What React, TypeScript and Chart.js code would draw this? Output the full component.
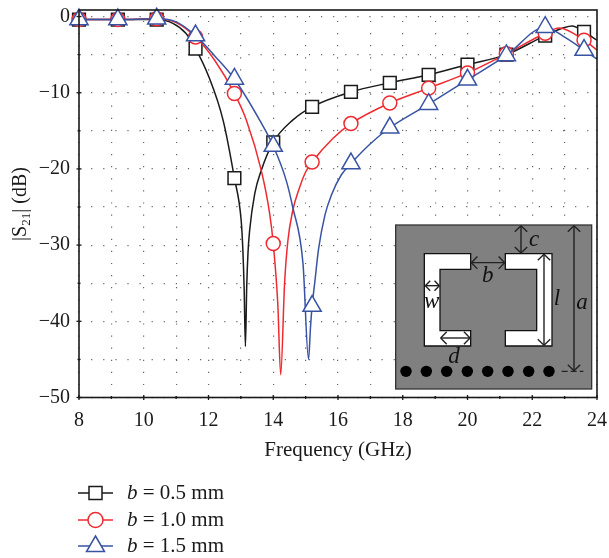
import React, { useEffect, useRef } from "react";
import { Chart, registerables } from "chart.js";

Chart.register(...registerables);

const FONT = '"Liberation Serif", serif';
const INK = "#1a1a1a";

const xTicks = [8, 10, 12, 14, 16, 18, 20, 22, 24];
const yTicks = [0, -10, -20, -30, -40, -50];

const markerFreqs = [8, 9.2, 10.4, 11.6, 12.8, 14, 15.2, 16.4, 17.6, 18.8, 20, 21.2, 22.4, 23.6];

const freqA = [8, 9.2, 10.4, 10.9, 11.3, 11.6, 12, 12.45, 12.8, 13.01, 13.06, 13.1, 13.14, 13.18, 13.22, 13.27, 13.43, 13.63, 14, 14.6, 15.2, 16.4, 17.6, 18.8, 20, 21.2, 22.4, 23, 23.23, 23.6, 24];
const lossA = [-0.4, -0.4, -0.4, -0.9, -2.2, -4.2, -7.8, -13.6, -21.2, -26.8, -30.5, -35.5, -43.3, -35.5, -31, -28.1, -23.2, -20.2, -16.5, -13.6, -11.85, -9.9, -8.7, -7.65, -6.3, -5, -2.5, -1.45, -1.25, -2, -3.1];

const freqB = [8, 9.2, 10.4, 11, 11.6, 12.2, 12.8, 13.17, 13.63, 13.89, 14, 14.14, 14.23, 14.35, 14.45, 14.6, 14.8, 15, 15.2, 15.84, 16.4, 17.6, 18.8, 20, 21.2, 22.4, 22.83, 23.6, 24];
const lossB = [-0.4, -0.4, -0.3, -0.8, -2.7, -5.8, -10.1, -13.6, -20.2, -25.9, -29.8, -37.7, -47, -35, -29.5, -25.5, -22.6, -20.4, -19.1, -16, -14.05, -11.35, -9.4, -7.4, -4.9, -2.2, -1.5, -3.1, -4.4];

const freqC = [8, 9.2, 10.4, 11, 11.6, 12.2, 12.8, 13.58, 14, 14.4, 14.6, 14.92, 15.09, 15.15, 15.2, 15.28, 15.4, 15.6, 15.8, 16.1, 16.4, 17, 17.6, 18.8, 20, 21.2, 22.4, 23, 23.6, 24];
const lossC = [-0.4, -0.4, -0.3, -0.7, -2.5, -5.2, -8.2, -13.6, -17, -21.5, -25, -32.5, -45, -40.8, -38, -35, -30.5, -26, -23.4, -20.8, -19.3, -16.7, -14.6, -11.5, -8.3, -5.1, -1.4, -2.7, -4.4, -5.6];

const seriesLabels = ["0.5", "1.0", "1.5"];
const seriesColors = ["#1a1a1a", "#ee2a30", "#3953a4"];
const seriesStyles = ["rect", "circle", "triangle"];
const seriesRadius = [9, 7, 10.5];

const toPoints = (xs: number[], ys: number[]) => xs.map((x, i) => ({ x, y: ys[i] }));
const isMarker = (x: number) => markerFreqs.includes(x);

// Chart.js reserves half a tick label above the top tick; the plot box starts higher here.
const plotTop = {
  id: "plotTop",
  afterLayout(chart: any) {
    const y = chart.scales.y;
    const a = chart.chartArea;
    a.top = 10;
    a.height = a.bottom - a.top;
    y.top = 10;
    y.height = y.bottom - y.top;
    y.configure();
  },
};

const overlay = {
  id: "overlay",
  afterDraw(chart: any) {
    const { ctx, chartArea: a, scales } = chart;
    ctx.save();
    // frame and ticks straddling the axes
    ctx.strokeStyle = INK;
    ctx.lineWidth = 1.6;
    ctx.strokeRect(a.left, a.top, a.right - a.left, a.bottom - a.top);
    ctx.lineWidth = 1.3;
    for (let v = -50; v <= 0; v += 5) {
      const y = scales.y.getPixelForValue(v);
      const h = yTicks.includes(v) ? 2.5 : 1.5;
      ctx.beginPath(); ctx.moveTo(a.left - h, y); ctx.lineTo(a.left + h, y); ctx.stroke();
    }
    for (let v = 8; v <= 24; v++) {
      const x = scales.x.getPixelForValue(v);
      const h = xTicks.includes(v) ? 2.5 : 1.5;
      ctx.beginPath(); ctx.moveTo(x, a.bottom - h); ctx.lineTo(x, a.bottom + h); ctx.stroke();
    }

    // y axis title with subscript
    ctx.save();
    ctx.translate(26, 204);
    ctx.rotate(-Math.PI / 2);
    ctx.fillStyle = INK;
    ctx.textBaseline = "alphabetic";
    ctx.textAlign = "left";
    const parts: [string, number, number][] = [["|S", 20, 0], ["21", 13, 4], ["| (dB)", 20, 0]];
    let w = 0;
    for (const [t, s] of parts) { ctx.font = `${s}px ${FONT}`; w += ctx.measureText(t).width; }
    let px = -w / 2;
    for (const [t, s, dy] of parts) {
      ctx.font = `${s}px ${FONT}`;
      ctx.fillText(t, px, dy);
      px += ctx.measureText(t).width;
    }
    ctx.restore();

    // legend
    const rows = [493, 520, 546];
    rows.forEach((y, i) => {
      const col = seriesColors[i];
      ctx.strokeStyle = col;
      ctx.lineWidth = 1.4;
      ctx.beginPath(); ctx.moveTo(78, y); ctx.lineTo(113, y); ctx.stroke();
      ctx.fillStyle = "#fff";
      ctx.lineWidth = 1.5;
      ctx.beginPath();
      if (i === 0) { ctx.rect(89, y - 6.5, 13, 13); }
      else if (i === 1) { ctx.arc(95.5, y, 7.5, 0, Math.PI * 2); }
      else { ctx.moveTo(95.5, y - 10); ctx.lineTo(104.5, y + 5.5); ctx.lineTo(86.5, y + 5.5); ctx.closePath(); }
      ctx.fill(); ctx.stroke();
      ctx.fillStyle = INK;
      ctx.textBaseline = "middle";
      ctx.textAlign = "left";
      ctx.font = `italic 21px ${FONT}`;
      ctx.fillText("b", 127, y);
      const bw = ctx.measureText("b").width;
      ctx.font = `21px ${FONT}`;
      ctx.fillText(` = ${seriesLabels[i]} mm`, 127 + bw, y);
    });

    // inset: crop coordinates of the drawing, 3 units to a pixel
    const X = (c: number) => 380 + c / 3;
    const Y = (c: number) => 210 + c / 3;
    ctx.fillStyle = "#808080";
    ctx.strokeStyle = "#333";
    ctx.lineWidth = 1.3;
    ctx.fillRect(X(47), Y(45), 196, 164);
    ctx.strokeRect(X(47), Y(45), 196, 164);
    const poly = (pts: number[][]) => {
      ctx.beginPath();
      pts.forEach(([u, v], k) => (k ? ctx.lineTo(X(u), Y(v)) : ctx.moveTo(X(u), Y(v))));
      ctx.closePath();
      ctx.fillStyle = "#fff";
      ctx.fill();
      ctx.strokeStyle = "#111";
      ctx.lineWidth = 1.3;
      ctx.stroke();
    };
    poly([[133, 131], [272, 131], [272, 178], [180, 178], [180, 362], [272, 362], [272, 408], [133, 408]]);
    poly([[516, 131], [376, 131], [376, 178], [470, 178], [470, 362], [376, 362], [376, 408], [516, 408]]);
    ctx.fillStyle = "#000";
    for (const c of [78, 139, 200, 262, 323, 384, 446, 507]) {
      ctx.beginPath(); ctx.arc(X(c), Y(484), 5.7, 0, Math.PI * 2); ctx.fill();
    }
    const arrow = (u1: number, v1: number, u2: number, v2: number, h = 20) => {
      const ang = Math.atan2(v2 - v1, u2 - u1);
      ctx.strokeStyle = "#222";
      ctx.lineWidth = 1.4;
      ctx.beginPath(); ctx.moveTo(X(u1), Y(v1)); ctx.lineTo(X(u2), Y(v2)); ctx.stroke();
      const head = (u: number, v: number, t: number) => {
        for (const s of [-0.8, 0.8]) {
          ctx.beginPath();
          ctx.moveTo(X(u), Y(v));
          ctx.lineTo(X(u + h * 1.3 * Math.cos(t + s)), Y(v + h * 1.3 * Math.sin(t + s)));
          ctx.stroke();
        }
      };
      head(u2, v2, ang + Math.PI);
      head(u1, v1, ang);
    };
    arrow(423, 47, 423, 129);
    arrow(274, 158, 374, 158);
    arrow(492, 133, 492, 406);
    arrow(582, 47, 582, 482);
    arrow(136, 227, 178, 227, 16);
    arrow(182, 384, 270, 384);
    ctx.strokeStyle = "#222";
    ctx.beginPath(); ctx.moveTo(X(545), Y(484)); ctx.lineTo(X(610), Y(484)); ctx.setLineDash([6, 3]); ctx.stroke(); ctx.setLineDash([]);
    ctx.fillStyle = "#111";
    ctx.font = `italic 23px ${FONT}`;
    ctx.textAlign = "center";
    ctx.textBaseline = "middle";
    for (const [t, u, v] of [["c", 462, 90], ["b", 323, 198], ["l", 531, 266], ["a", 606, 280], ["w", 155, 276], ["d", 222, 442]] as [string, number, number][]) {
      ctx.fillText(t, X(u), Y(v));
    }
    ctx.restore();
  },
};

export default function App() {
  const ref = useRef<HTMLCanvasElement>(null);
  useEffect(() => {
    document.body.style.margin = "0";
    const sources: [number[], number[]][] = [[freqA, lossA], [freqB, lossB], [freqC, lossC]];
    const chart = new Chart(ref.current!, {
      type: "line",
      data: {
        datasets: sources.map(([xs, ys], i) => ({
          label: `b = ${seriesLabels[i]} mm`,
          data: toPoints(xs, ys),
          borderColor: seriesColors[i],
          borderWidth: 1.5,
          cubicInterpolationMode: "monotone" as const,
          pointStyle: seriesStyles[i] as any,
          pointRadius: (c: any) => (isMarker(c.raw.x) ? seriesRadius[i] : 0),
          pointBackgroundColor: "#fff",
          pointBorderColor: seriesColors[i],
          pointBorderWidth: 1.5,
          order: 3 - i,
          clip: false as any,
        })),
      },
      options: {
        responsive: false,
        animation: false,
        layout: { padding: { top: 10, right: 10, left: 0, bottom: 94.5 } },
        plugins: { legend: { display: false }, tooltip: { enabled: false } },
        scales: {
          x: {
            type: "linear",
            min: 8,
            max: 24,
            afterFit: (s: any) => { s.height = 66; s.paddingLeft = 0; s.paddingRight = 0; },
            afterBuildTicks: (s: any) => {
              const t = [];
              for (let v = 8; v <= 24; v++) t.push({ value: v });
              s.ticks = t;
            },
            ticks: {
              maxRotation: 0,
              autoSkip: false,
              color: INK,
              padding: 11,
              font: { family: FONT, size: 20 },
              callback: (v: any) => (xTicks.includes(v) ? String(v) : ""),
            },
            grid: { color: "#666", lineWidth: 1.2, drawTicks: false },
            border: { display: false, dash: [1.2, 10.9], dashOffset: 1.2 },
            title: { display: true, text: "Frequency (GHz)", color: INK, font: { family: FONT, size: 21 }, padding: 0 },
          },
          y: {
            type: "linear",
            min: -50,
            max: 0.855,
            afterFit: (s: any) => { s.width = 79; s.paddingTop = 0; s.paddingBottom = 0; },
            afterBuildTicks: (s: any) => {
              const t = [];
              for (let v = -50; v <= 0; v += 5) t.push({ value: v });
              s.ticks = t;
            },
            ticks: {
              autoSkip: false,
              color: INK,
              padding: 9,
              font: { family: FONT, size: 20, lineHeight: 1 },
              callback: (v: any) => (yTicks.includes(v) ? (v < 0 ? `\u2212${-v}` : String(v)) : ""),
            },
            grid: { color: "#666", lineWidth: 1.2, drawTicks: false },
            border: { display: false, dash: [1.2, 10.9], dashOffset: 0 },
          },
        },
      },
      plugins: [plotTop, overlay],
    } as any);
    return () => chart.destroy();
  }, []);
  return <canvas ref={ref} width={609} height={558} style={{ display: "block" }} />;
}
